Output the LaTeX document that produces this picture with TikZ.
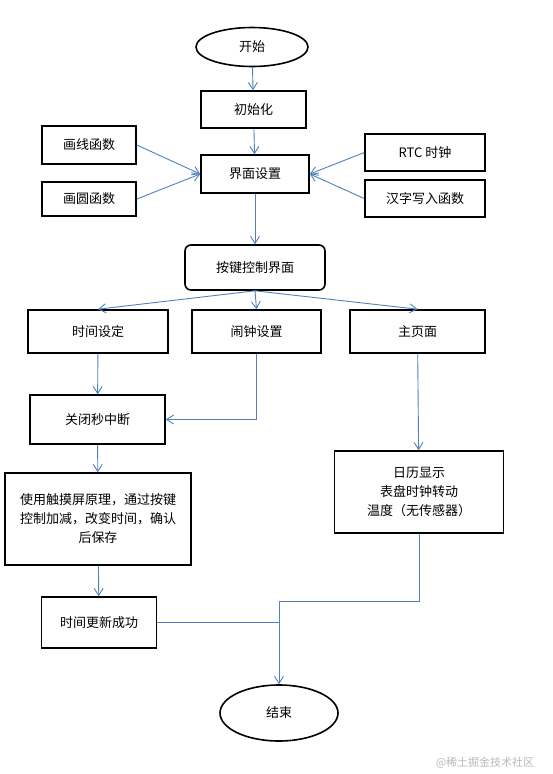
\documentclass[tikz,border=0pt]{standalone}
\usepackage{fontspec}
\newfontfamily\cjk{Noto Sans CJK SC}
\usetikzlibrary{shapes.geometric,arrows.meta}
\definecolor{linkblue}{RGB}{79,129,189}

\begin{document}
\begin{tikzpicture}[x=1pt,y=-1pt,
  box/.style={draw,line width=1.6pt,inner sep=0pt,align=center,font=\cjk\fontsize{13}{19}\selectfont},
  roundbox/.style={box,rounded corners=6pt},
  term/.style={draw,ellipse,line width=1.6pt,inner sep=0pt,font=\cjk\fontsize{13}{19}\selectfont},
  flow/.style={draw=linkblue,line width=0.9pt,-{Straight Barb[length=7pt,width=9pt]}},
  plainflow/.style={draw=linkblue,line width=0.9pt}]
\useasboundingbox (0,0) rectangle (553,774);

% Start and set-up
\node[term,minimum width=112pt,minimum height=39pt] (start) at (252,47) {开始};
\node[box,minimum width=105pt,minimum height=37pt] (init) at (253.5,109.5) {初始化};
\node[box,minimum width=108pt,minimum height=38pt] (ui) at (255,174) {界面设置};
\node[box,minimum width=94pt,minimum height=38pt] (line) at (89,145) {画线函数};
\node[box,minimum width=94pt,minimum height=34pt] (circ) at (89,199) {画圆函数};
\node[box,minimum width=120pt,minimum height=37pt] (rtc) at (425,152.5) {RTC 时钟};
\node[box,minimum width=120pt,minimum height=37pt] (hanzi) at (425,198.5) {汉字写入函数};
\node[roundbox,minimum width=140pt,minimum height=45pt] (keys) at (255,267.5) {按键控制界面};

% Three branches
\node[box,minimum width=140pt,minimum height=43pt] (settime) at (98,331.5) {时间设定};
\node[box,minimum width=129pt,minimum height=43pt] (alarm) at (256.5,331.5) {闹钟设置};
\node[box,minimum width=135pt,minimum height=43pt] (home) at (417.5,331.5) {主页面};
\node[box,minimum width=135pt,minimum height=49pt] (irq) at (97.5,419.5) {关闭秒中断};
\node[box,minimum width=186pt,minimum height=92pt] (touch) at (98,519) {使用触摸屏原理，通过按键\\控制加减，改变时间，确认\\后保存};
\node[box,minimum width=169pt,minimum height=82pt] (cal) at (419,492) {日历显示\\表盘时钟转动\\温度（无传感器）};
\node[box,minimum width=115pt,minimum height=51pt] (done) at (99,622.5) {时间更新成功};
\node[term,minimum width=118pt,minimum height=56pt] (stop) at (279,713) {结束};

\node[font=\cjk\fontsize{11}{13}\selectfont,text=gray!55] (mark) at (485,763) {@稀土掘金技术社区};

% Connectors
\draw[flow] (start) -- (init);
\draw[flow] (init) -- (ui);
\draw[flow] (line.east) -- (ui.west);
\draw[flow] (circ.east) -- (ui.west);
\draw[flow] (rtc.west) -- (ui.east);
\draw[flow] (hanzi.west) -- (ui.east);
\draw[flow] (ui) -- (keys);
\draw[flow] (keys.south) -- (settime.north);
\draw[flow] (keys.south) -- (alarm.north);
\draw[flow] (keys.south) -- (home.north);
\draw[flow] (settime) -- (irq);
\draw[flow] (alarm.south) |- (irq.east);
\draw[flow] (home) -- (cal);
\draw[flow] (irq) -- (touch);
\draw[flow] (touch) -- (done);

% Merge into the end
\coordinate (merge) at (279,601);
\draw[plainflow] (done.east) -- (done.east -| merge);
\draw[flow] (cal.south) |- (merge) -- (stop.north);

\end{tikzpicture}
\end{document}
